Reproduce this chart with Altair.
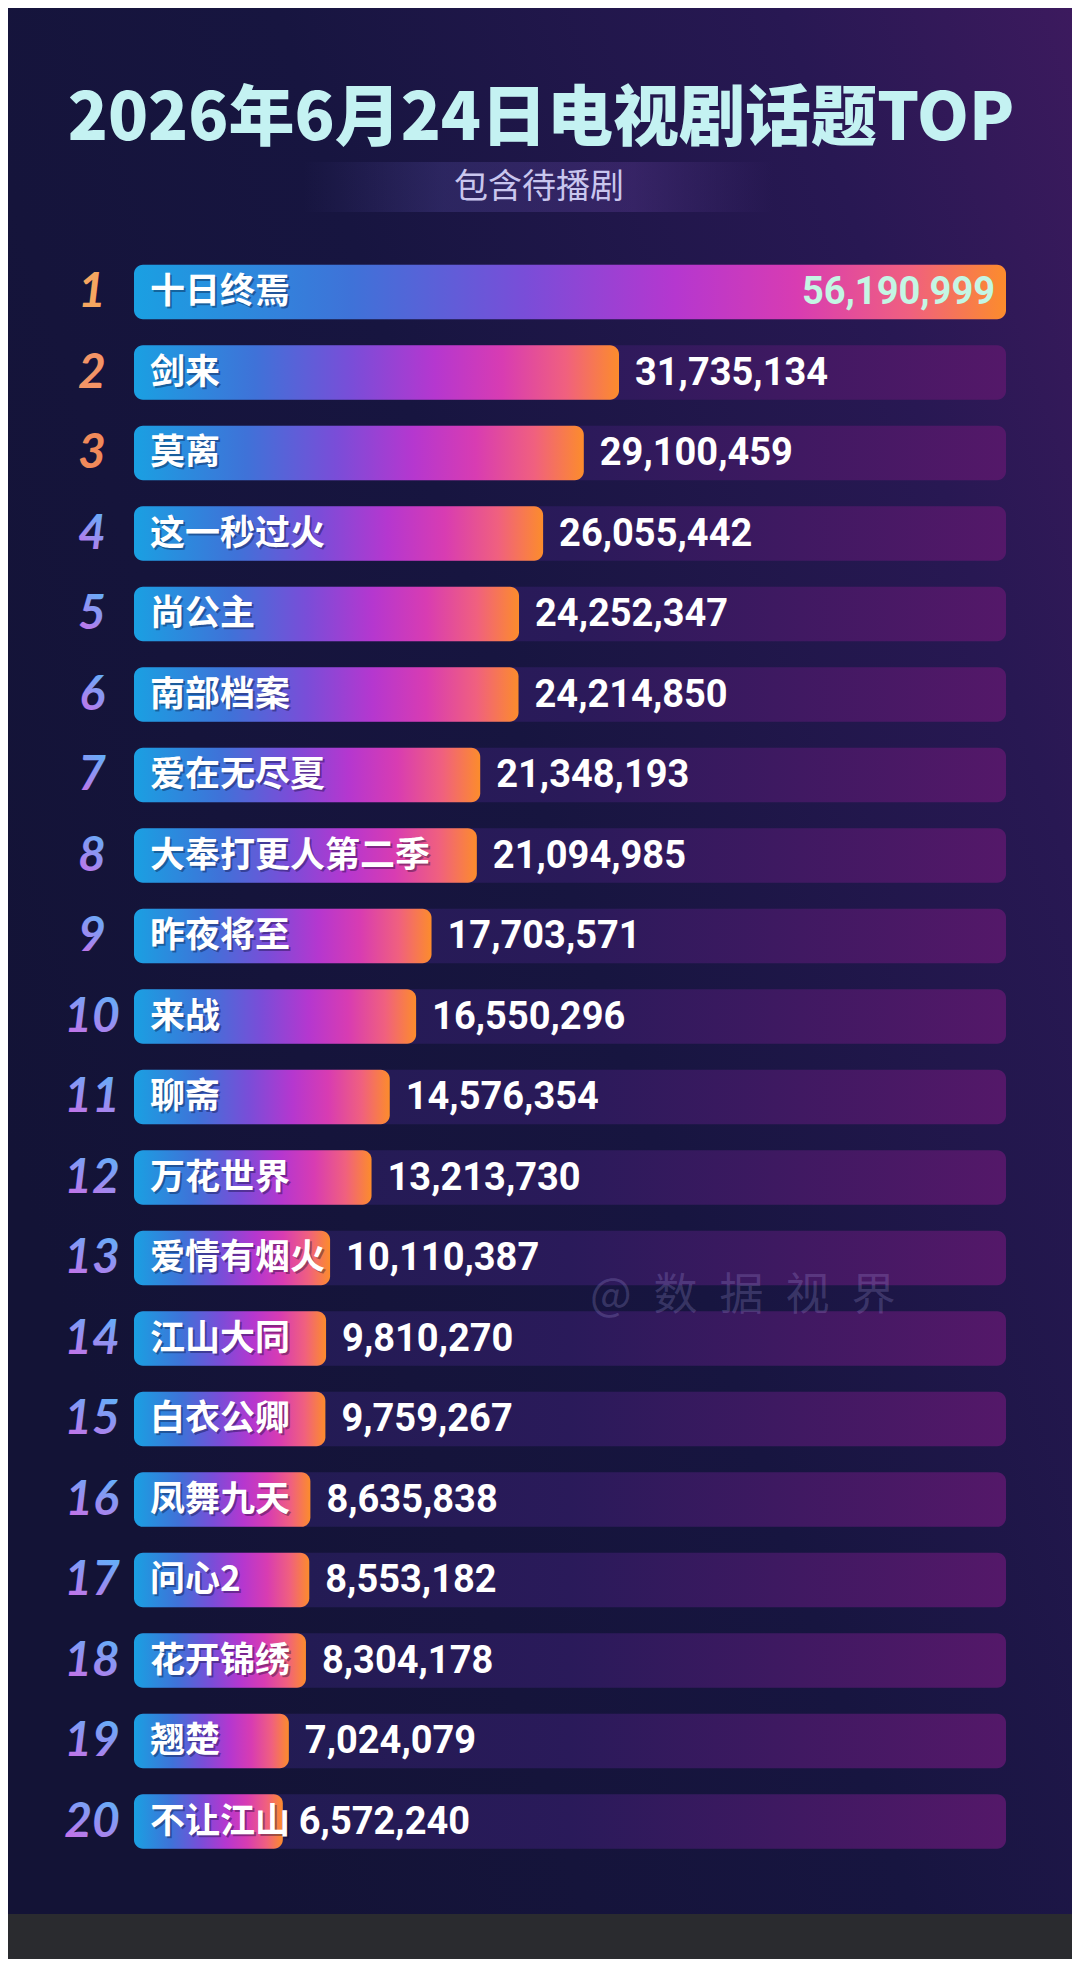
import altair as alt
import pandas as pd

# ---------------- data ----------------
ranks = list(range(1, 21))
names = ["十日终焉", "剑来", "莫离", "这一秒过火", "尚公主", "南部档案", "爱在无尽夏",
         "大奉打更人第二季", "昨夜将至", "来战", "聊斋", "万花世界", "爱情有烟火",
         "江山大同", "白衣公卿", "凤舞九天", "问心2", "花开锦绣", "翘楚", "不让江山"]
values = [56190999, 31735134, 29100459, 26055442, 24252347, 24214850, 21348193,
          21094985, 17703571, 16550296, 14576354, 13213730, 10110387, 9810270,
          9759267, 8635838, 8553182, 8304178, 7024079, 6572240]
top_rank_colors = ["#F6A660", "#F39466", "#F08A5A"]

title_text = "2026年6月24日电视剧话题TOP"
subtitle_text = "包含待播剧"
watermark_text = "@\u2002数\u2002据\u2002视\u2002界"

W, H = 1064, 1951
X0 = -4566000            # scale origin (bars have a base length)
XMAX = values[0]

df = pd.DataFrame({"rank": ranks, "name": names, "value": values})
df["label"] = df["value"].map(lambda v: f"{v:,}")
df["lo"] = X0
df["hi"] = XMAX
df["y0"] = df["rank"] - 0.34
df["y1"] = df["rank"] + 0.34
df["rcolor"] = [top_rank_colors[i] if i < 3 else "#999" for i in range(20)]

xs = alt.Scale(domain=[X0, values[1], XMAX], range=[126, 611, 998], zero=False, nice=False)
ys = alt.Scale(domain=[1, 20], range=[284, 1813.5], zero=False, nice=False)

one = pd.DataFrame({"k": [0]})

CJK = "Noto Sans CJK SC"
NUM = "Roboto, sans-serif"


def grad(stops, x1=0, y1=0, x2=1, y2=0):
    return {"gradient": "linear", "x1": x1, "y1": y1, "x2": x2, "y2": y2,
            "stops": [{"offset": o, "color": c} for o, c in stops]}


# ---------------- decoration ----------------
bg = alt.Chart(one).mark_rect(
    fill=grad([(0, "#131336"), (0.45, "#171540"), (0.8, "#281853"), (1, "#3C1A5E")],
              x1=0, y1=0.6, x2=1, y2=0)
).encode(x=alt.value(0), x2=alt.value(W), y=alt.value(0), y2=alt.value(1906))

band = alt.Chart(one).mark_rect(
    fill=grad([(0, "rgba(90,80,170,0)"), (0.3, "rgba(90,80,170,0.28)"),
               (0.7, "rgba(110,70,170,0.28)"), (1, "rgba(110,70,170,0)")])
).encode(x=alt.value(295), x2=alt.value(765), y=alt.value(154), y2=alt.value(204))

line_grad = grad([(0, "rgba(140,150,240,0)"), (0.5, "rgba(170,170,255,0.9)"),
                  (1, "rgba(140,150,240,0)")])
band_top = alt.Chart(one).mark_rule(stroke=line_grad, strokeWidth=2).encode(
    x=alt.value(295), x2=alt.value(765), y=alt.value(154))
band_bot = alt.Chart(one).mark_rule(stroke=line_grad, strokeWidth=2).encode(
    x=alt.value(295), x2=alt.value(765), y=alt.value(204))

title = alt.Chart(one).mark_text(
    text=title_text, font=CJK, fontSize=66, fontWeight=900, color="#C4F2F2",
    align="center", baseline="middle"
).encode(x=alt.value(533), y=alt.value(112))

subtitle = alt.Chart(one).mark_text(
    text=subtitle_text, font=CJK, fontSize=34, color="#C9C6EE",
    align="center", baseline="middle"
).encode(x=alt.value(531), y=alt.value(180))

watermark = alt.Chart(one).mark_text(
    text=watermark_text, font=CJK, fontSize=44, color="rgba(195,190,255,0.2)",
    align="left", baseline="middle"
).encode(x=alt.value(582), y=alt.value(1289))

# ---------------- data marks ----------------
base = alt.Chart(df)

track = base.mark_rect(
    cornerRadius=9,
    fill=grad([(0, "#1E1C50"), (0.5, "#2A1A5A"), (1, "#541869")])
).encode(
    x=alt.X("lo:Q", scale=xs, axis=None), x2="hi:Q",
    y=alt.Y("y0:Q", scale=ys, axis=None), y2="y1:Q",
)

bars = base.mark_rect(
    cornerRadius=9,
    fill=grad([(0, "#1AA0E2"), (0.25, "#3F72D8"), (0.45, "#7A4DD8"), (0.62, "#B537CF"),
               (0.76, "#D83CB2"), (0.89, "#F0607F"), (1, "#FC8C2C")])
).encode(
    x=alt.X("lo:Q", scale=xs, axis=None), x2="value:Q",
    y=alt.Y("y0:Q", scale=ys, axis=None), y2="y1:Q",
)

name_shadow = base.mark_text(
    font=CJK, fontSize=35, fontWeight="bold", color="rgba(0,0,30,0.35)",
    align="left", baseline="middle", dx=18, dy=2
).encode(x=alt.X("lo:Q", scale=xs, axis=None), y=alt.Y("rank:Q", scale=ys, axis=None),
         text="name:N")

name_txt = base.mark_text(
    font=CJK, fontSize=35, fontWeight="bold", color="#FFFFFF",
    align="left", baseline="middle", dx=16
).encode(x=alt.X("lo:Q", scale=xs, axis=None), y=alt.Y("rank:Q", scale=ys, axis=None),
         text="name:N")

val_out = base.transform_filter("datum.rank > 1").mark_text(
    font=NUM, fontSize=38, fontWeight="bold", color="#FFFFFF",
    align="left", baseline="middle", dx=16, dy=1
).encode(x=alt.X("value:Q", scale=xs, axis=None), y=alt.Y("rank:Q", scale=ys, axis=None),
         text="label:N")

val_in = base.transform_filter("datum.rank == 1").mark_text(
    font=NUM, fontSize=38, fontWeight="bold", color="#C4F6E4",
    align="right", baseline="middle", dx=-11, dy=1
).encode(x=alt.X("value:Q", scale=xs, axis=None), y=alt.Y("rank:Q", scale=ys, axis=None),
         text="label:N")

rank_top = base.transform_filter("datum.rank <= 3").mark_text(
    font="Lato", fontSize=48, fontWeight="bold", fontStyle="italic",
    align="center", baseline="middle", dx=-42, dy=1
).encode(x=alt.X("lo:Q", scale=xs, axis=None), y=alt.Y("rank:Q", scale=ys, axis=None),
         text="rank:N", color=alt.Color("rcolor:N", scale=None))

rank_rest = base.transform_filter("datum.rank > 3").mark_text(
    font="Lato", fontSize=48, fontWeight="bold", fontStyle="italic",
    align="center", baseline="middle", dx=-42, dy=1,
    fill=grad([(0, "#58B6FA"), (0.5, "#8F93F2"), (1, "#CC6EE6")], x1=0.7, y1=0, x2=0.3, y2=1)
).encode(x=alt.X("lo:Q", scale=xs, axis=None), y=alt.Y("rank:Q", scale=ys, axis=None),
         text="rank:N")

chart = alt.layer(
    bg, band, band_top, band_bot, title, subtitle,
    track, bars, name_shadow, name_txt, val_out, val_in, rank_top, rank_rest, watermark
).properties(
    width=W, height=H, background="#2A2B2F", padding=0,
    autosize=alt.AutoSizeParams(type="none")
).configure_view(stroke=None)

chart.save("out.html", embed_options={"renderer": "svg", "actions": False})
